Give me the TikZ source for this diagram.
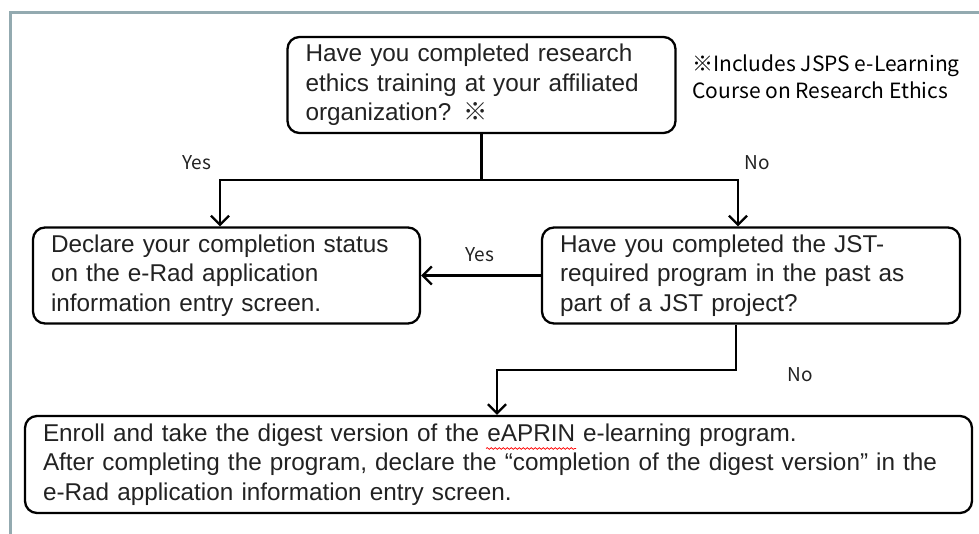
\documentclass[tikz,border=0pt]{standalone}
\usepackage{fontspec}
\setmainfont{Liberation Sans}
\newfontfamily\jpfont{Noto Sans CJK JP}
\usetikzlibrary{arrows.meta,decorations.pathmorphing}
\definecolor{framec}{HTML}{93AAB0}
\definecolor{txt}{HTML}{222222}
\tikzset{
  box/.style={draw, line width=2.3pt, rounded corners=12pt, inner xsep=18pt, inner ysep=0pt,
    align=left, text=txt, font=\fontsize{24.3}{29.5}\selectfont},
  conn/.style={line width=2.3pt},
  arr/.style={line width=2.3pt, -{Straight Barb[length=9pt,width=18pt,line width=2.3pt]}},
  lbl/.style={font=\jpfont\fontsize{19}{22}\selectfont, text=txt, inner sep=0pt},
  note/.style={font=\jpfont\fontsize{21}{27}\selectfont, text=black, align=left, inner sep=0pt},
}
\begin{document}
\begin{tikzpicture}[x=1pt,y=-1pt]
\useasboundingbox (0,0) rectangle (979,534);
\fill[white] (0,0) rectangle (979,534);
\draw[framec, line width=3pt] (10,534) -- (10,13) -- (979,13);

\node[box, text width=352pt, minimum height=96pt] (q1) at (481.5,85)
  {Have you completed research\\ethics training at your affiliated\\organization? {\jpfont ※}};
\node[note] (nt) at (826,77) {※Includes JSPS e-Learning\\Course on Research Ethics};

\node[box, text width=351pt, minimum height=96pt] (a1) at (226.5,275.5)
  {Declare your completion status\\on the e-Rad application\\information entry screen.};
\node[box, text width=382pt, minimum height=96pt] (q2) at (751,275.5)
  {Have you completed the JST-\\required program in the past as\\part of a JST project?};
\node[box, text width=911pt, minimum height=97pt] (b) at (498.5,464.5)
  {Enroll and take the digest version of the eAPRIN e-learning program.\\After completing the program, declare the “completion of the digest version” in the\\e-Rad application information entry screen.};

\coordinate (hj) at (0,180);
\coordinate (xl) at (220,0);
\coordinate (xr) at (738,0);
\coordinate (q2x) at (736,0);
\coordinate (nx) at (497,370);

\draw[conn] (q1.south) -- (q1.south |- hj);
\draw[arr] (q1.south |- hj) -| (a1.north -| xl);
\draw[arr] (q1.south |- hj) -| (q2.north -| xr);
\draw[arr] (q2.west) -- (a1.east);
\draw[arr] (q2.south -| q2x) |- (nx) -- (b.north -| nx);

\node[lbl] (yes1) at (197,163) {Yes};
\node[lbl] (no1) at (757,163) {No};
\node[lbl] (yes2) at (480,255) {Yes};
\node[lbl] (no2) at (800,375) {No};

\draw[red, line width=0.7pt, decorate, decoration={snake, amplitude=0.9pt, segment length=4pt}] (486,448.5) -- (576,448.5);
\end{tikzpicture}
\end{document}
